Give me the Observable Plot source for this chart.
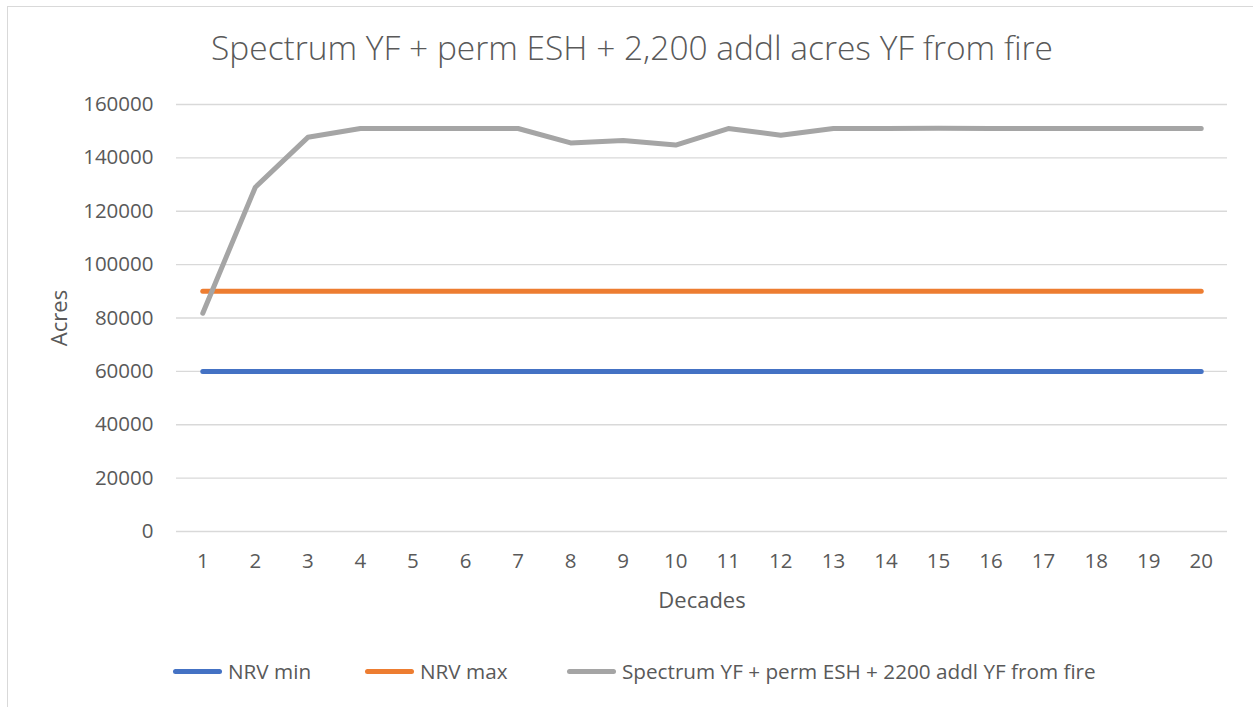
<!DOCTYPE html>
<html>
<head>
<meta charset="utf-8">
<script src="https://cdn.jsdelivr.net/npm/d3@7"></script>
<script src="https://cdn.jsdelivr.net/npm/@observablehq/plot@0.6"></script>
<style>
  html, body { margin: 0; padding: 0; background: #fff; width: 1253px; height: 707px; overflow: hidden; }
  body { position: relative; font-family: "Open Sans", Lato, sans-serif; color: #595959; }
  #frame { position: absolute; left: 7px; top: 6px; width: 1300px; height: 760px; border: 1.5px solid #d9d9d9; box-sizing: border-box; }
  #title { position: absolute; left: 0; width: 1264px; top: 25px; text-align: center; font-size: 33.5px; font-weight: 300; line-height: 44px; color: #595959; white-space: nowrap; }
  #chart { position: absolute; left: 0; top: 80px; }
  .item { position: absolute; top: 657px; display: flex; align-items: center; font-size: 20.7px; line-height: 28px; white-space: nowrap; }
  .sw { width: 49px; height: 5px; border-radius: 3px; margin-right: 6px; }
</style>
</head>
<body>
<div id="frame"></div>
<div id="title">Spectrum YF + perm ESH + 2,200 addl acres YF from fire</div>
<div id="chart"></div>
<div id="legend"></div>
<script>
const decades = [1,2,3,4,5,6,7,8,9,10,11,12,13,14,15,16,17,18,19,20];
const nrvMin = [60000,60000,60000,60000,60000,60000,60000,60000,60000,60000,60000,60000,60000,60000,60000,60000,60000,60000,60000,60000];
const nrvMax = [90000,90000,90000,90000,90000,90000,90000,90000,90000,90000,90000,90000,90000,90000,90000,90000,90000,90000,90000,90000];
const spectrum = [81800,129000,147700,151000,151000,151000,151000,145600,146500,144800,151000,148500,151000,151000,151100,151000,151000,151000,151000,151000];
const yTicks = [0,20000,40000,60000,80000,100000,120000,140000,160000];
const seriesNames = ["NRV min", "NRV max", "Spectrum YF + perm ESH + 2200 addl YF from fire"];
const seriesColors = ["#4472C4", "#ED7D31", "#A5A5A5"];

const allSeries = [nrvMin, nrvMax, spectrum];
const rows = [];
allSeries.forEach((vals, si) => vals.forEach((v, i) => rows.push({decade: decades[i], value: v, series: seriesNames[si]})));

const plot = Plot.plot({
  width: 1253,
  height: 540,
  marginTop: 24,
  marginBottom: 89,
  marginLeft: 176,
  marginRight: 26,
  style: { fontFamily: "'Open Sans', Lato, sans-serif", fontSize: "20.5px", color: "#595959", background: "transparent" },
  x: { domain: [0.5, 20.5], label: null },
  y: { domain: [0, 160000], label: null },
  color: { domain: seriesNames, range: seriesColors },
  marks: [
    Plot.gridY(yTicks, { stroke: "#d9d9d9", strokeOpacity: 1, strokeWidth: 1.3 }),
    Plot.axisY(yTicks, { tickSize: 0, tickPadding: 23, tickFormat: d => String(d), fill: "#595959", label: null }),
    Plot.axisX(decades, { tickSize: 0, tickPadding: 22, tickFormat: d => String(d), fill: "#595959", label: null }),
    Plot.line(rows, { x: "decade", y: "value", z: "series", stroke: "series", strokeWidth: 5, strokeLinecap: "round", strokeLinejoin: "round" }),
    Plot.text(["Decades"], { frameAnchor: "bottom", dy: 76, fontSize: 22, fill: "#595959" }),
    Plot.text(["Acres"], { frameAnchor: "left", dx: -117, rotate: -90, textAnchor: "middle", fontSize: 22, fill: "#595959" })
  ]
});
document.getElementById("chart").appendChild(plot);

const legend = document.getElementById("legend");
const lefts = [173, 365, 567];
seriesNames.forEach((name, i) => {
  const item = document.createElement("div");
  item.className = "item";
  item.style.left = lefts[i] + "px";
  const sw = document.createElement("div");
  sw.className = "sw";
  sw.style.background = seriesColors[i];
  const t = document.createElement("span");
  t.textContent = name;
  item.appendChild(sw);
  item.appendChild(t);
  legend.appendChild(item);
});
</script>
</body>
</html>
